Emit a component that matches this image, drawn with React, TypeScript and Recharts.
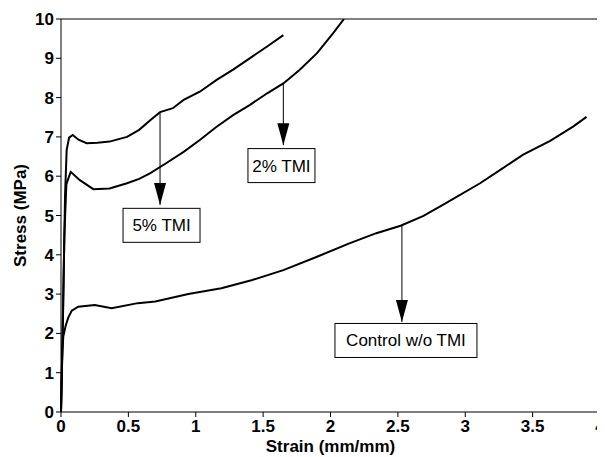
import React from "react";
import {
  Line,
  LineChart,
  ReferenceDot,
  ReferenceLine,
  XAxis,
  YAxis,
} from "recharts";

// strain (mm/mm) and stress (MPa)
const strain5 = [0, 0.015, 0.03, 0.042, 0.06, 0.087, 0.13, 0.19, 0.27, 0.36, 0.49, 0.58, 0.66, 0.735, 0.83, 0.91, 1.03, 1.155, 1.28, 1.4, 1.53, 1.65];
const stress5 = [0, 2.5, 5.5, 6.67, 6.98, 7.05, 6.93, 6.84, 6.85, 6.88, 7.0, 7.18, 7.42, 7.63, 7.73, 7.94, 8.15, 8.45, 8.72, 9.0, 9.3, 9.59];

const strain2 = [0, 0.012, 0.025, 0.04, 0.072, 0.14, 0.24, 0.36, 0.49, 0.58, 0.66, 0.78, 0.91, 1.03, 1.155, 1.28, 1.4, 1.53, 1.65, 1.77, 1.9, 2.02, 2.1];
const stress2 = [0, 2, 4.5, 5.8, 6.11, 5.9, 5.67, 5.69, 5.82, 5.93, 6.07, 6.33, 6.62, 6.92, 7.26, 7.56, 7.81, 8.11, 8.36, 8.7, 9.13, 9.64, 10];

const strainCtl = [0, 0.005, 0.01, 0.017, 0.035, 0.054, 0.08, 0.128, 0.25, 0.376, 0.57, 0.7, 0.945, 1.19, 1.42, 1.65, 1.9, 2.14, 2.34, 2.52, 2.69, 2.85, 3.11, 3.26, 3.43, 3.63, 3.8, 3.9];
const stressCtl = [0, 0.8, 1.5, 1.92, 2.2, 2.4, 2.58, 2.68, 2.72, 2.64, 2.77, 2.81, 3.0, 3.15, 3.36, 3.61, 3.95, 4.29, 4.55, 4.74, 4.99, 5.3, 5.82, 6.16, 6.55, 6.9, 7.26, 7.51];

const xTicks = [0, 0.5, 1, 1.5, 2, 2.5, 3, 3.5, 4];
const yTicks = [0, 1, 2, 3, 4, 5, 6, 7, 8, 9, 10];

// annotations: label, arrow x, arrow from / to stress, box centre
const labels = ["5% TMI", "2% TMI", "Control w/o TMI"];
const arrowX = [0.735, 1.65, 2.53];
const arrowFrom = [7.63, 8.36, 4.74];
const arrowTo = [5.27, 6.79, 2.29];
const boxX = [0.746, 1.636, 2.56];
const boxY = [4.75, 6.27, 1.82];
const boxW = [77, 67, 142];

const zip = (xs: number[], ys: number[]) => xs.map((x, i) => ({ x, y: ys[i] }));

const FONT = "'Liberation Sans', Arial, Helvetica, sans-serif";

const ArrowHead = (props: any) => {
  const { cx, cy } = props;
  return <polygon points={`${cx - 6},${cy - 22} ${cx + 6},${cy - 22} ${cx},${cy}`} fill="#000" />;
};

const makeBox = (text: string, w: number) => (props: any) => {
  const { cx, cy } = props;
  return (
    <g>
      <rect x={cx - w / 2} y={cy - 17} width={w} height={34} fill="#fff" stroke="#000" strokeWidth={1} />
      <text x={cx} y={cy + 6} textAnchor="middle" fontFamily={FONT} fontSize={17} fill="#000">
        {text}
      </text>
    </g>
  );
};

export default function App() {
  const tick = { fontFamily: FONT, fontSize: 17, fontWeight: 700, fill: "#000" };
  return (
    <LineChart width={597} height={449} margin={{ top: 11, right: 5, left: 0, bottom: 0 }} style={{ overflow: "visible" }}>
      <XAxis
        type="number"
        dataKey="x"
        domain={[0, 4]}
        ticks={xTicks}
        tick={tick}
        tickSize={5}
        tickMargin={3}
        height={45}
        stroke="#000"
        label={{ value: "Strain (mm/mm)", position: "insideBottom", offset: 5, style: { fontFamily: FONT, fontSize: 17, fontWeight: 700, fill: "#000" } }}
      />
      <YAxis
        type="number"
        dataKey="y"
        domain={[0, 10]}
        ticks={yTicks}
        tick={tick}
        tickSize={5}
        tickMargin={2}
        width={53}
        allowDataOverflow
        stroke="#000"
        label={{ value: "Stress (MPa)", angle: -90, position: "insideLeft", offset: 12, style: { textAnchor: "middle", fontFamily: FONT, fontSize: 17, fontWeight: 700, fill: "#000" } }}
      />
      <ReferenceLine y={10} stroke="#000" />
      <ReferenceLine x={4} stroke="#000" />
      <Line data={zip(strain5, stress5)} dataKey="y" stroke="#000" strokeWidth={2} dot={false} type="linear" isAnimationActive={false} />
      <Line data={zip(strain2, stress2)} dataKey="y" stroke="#000" strokeWidth={2} dot={false} type="linear" isAnimationActive={false} />
      <Line data={zip(strainCtl, stressCtl)} dataKey="y" stroke="#000" strokeWidth={2} dot={false} type="linear" isAnimationActive={false} />
      {labels.map((l, i) => (
        <ReferenceLine
          key={"s" + i}
          segment={[{ x: arrowX[i], y: arrowFrom[i] }, { x: arrowX[i], y: arrowTo[i] }]}
          stroke="#000"
          strokeWidth={1}
        />
      ))}
      {labels.map((l, i) => (
        <ReferenceDot key={"h" + i} x={arrowX[i]} y={arrowTo[i]} shape={ArrowHead} />
      ))}
      {labels.map((l, i) => (
        <ReferenceDot key={"b" + i} x={boxX[i]} y={boxY[i]} shape={makeBox(l, boxW[i])} />
      ))}
    </LineChart>
  );
}
